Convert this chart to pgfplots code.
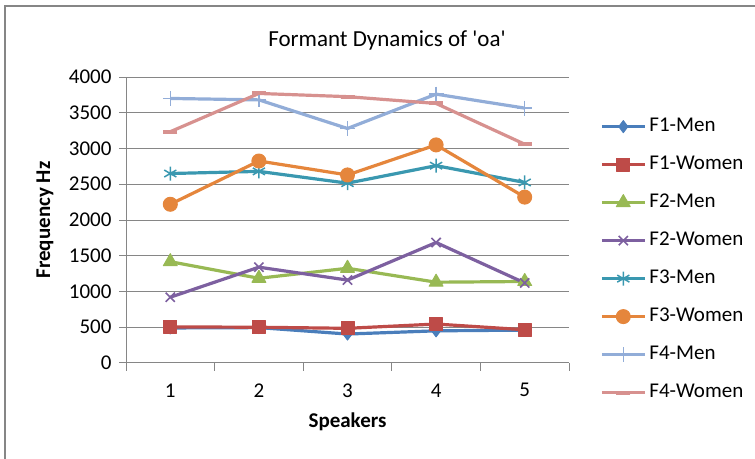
\documentclass[border=0pt]{standalone}
\usepackage{pgfplots}
\pgfplotsset{compat=1.18}
\usepackage{fontspec}
\setmainfont{Carlito}

\definecolor{gridgray}{HTML}{868686}
\definecolor{cBlue}{HTML}{4A7EBB}
\definecolor{cRed}{HTML}{BE4B48}
\definecolor{cGreen}{HTML}{98B954}
\definecolor{cPurple}{HTML}{7D60A0}
\definecolor{cTeal}{HTML}{3A98B0}
\definecolor{cOrange}{HTML}{E5863C}
\definecolor{cLBlue}{HTML}{92ADD8}
\definecolor{cPink}{HTML}{D7918F}

\newcommand{\lbl}{\fontsize{21bp}{25bp}\selectfont}

\begin{document}
\begin{tikzpicture}
\useasboundingbox (0,0) rectangle (755bp,459bp);
% chart area frame
\draw[gridgray, line width=1.2bp] (5bp,0bp) -- (5bp,453bp) -- (755bp,453bp);
% title
\node[font=\fontsize{23bp}{27bp}\selectfont] at (387bp,419bp) {Formant Dynamics of \textquotesingle oa\textquotesingle};

\begin{axis}[
  at={(126bp,96bp)}, anchor=south west,
  scale only axis, width=443bp, height=286bp,
  xmin=0.5, xmax=5.5, ymin=0, ymax=4000,
  axis x line*=bottom, axis y line*=left,
  axis line style={gridgray, line width=1bp, -},
  xtick={1,2,3,4,5},
  minor xtick={0.5,1.5,...,5.5},
  ytick={0,500,...,4000},
  major x tick style={draw=none},
  minor x tick style={gridgray, line width=1bp},
  major y tick style={gridgray, line width=1bp},
  tick align=outside,
  major tick length=7bp, minor tick length=8bp,
  ymajorgrids, grid style={gridgray, line width=1bp},
  tick label style={font=\lbl},
  /pgf/number format/assume math mode=true,
  /pgf/number format/1000 sep={},
  yticklabel style={xshift=-4bp},
  xticklabel style={yshift=-10bp},
  xlabel={\bfseries Speakers},
  ylabel={\bfseries Frequency Hz},
  label style={font=\lbl},
  xlabel style={at={(axis description cs:0.5,-0.206)}, anchor=center},
  ylabel style={at={(axis description cs:-0.183,0.5)}, anchor=center, rotate=0},
  legend cell align=left,
  legend image code/.code={%
    \draw[mark repeat=2,mark phase=2,#1] plot coordinates {(0bp,0bp) (21.5bp,0bp) (43bp,0bp)};},
  legend style={draw=none, fill=none, font=\lbl,
    at={(axis description cs:1.070,0.857)}, anchor=north west,
    inner sep=0pt, row sep=21bp,
    nodes={inner sep=0pt, text height=13bp, text depth=4bp},
    /tikz/every odd column/.append style={column sep=3bp}},
  every axis plot/.append style={line width=3.2bp, line join=round},
]
\addplot[cBlue, mark=diamond*, mark size=6bp, mark options={fill=cBlue, line width=1bp}]
  coordinates {(1,490) (2,495) (3,405) (4,450) (5,460)};
\addlegendentry{F1-Men}
\addplot[cRed, mark=square*, mark size=6.5bp, mark options={fill=cRed, line width=1bp}]
  coordinates {(1,505) (2,500) (3,485) (4,545) (5,465)};
\addlegendentry{F1-Women}
\addplot[cGreen, mark=triangle*, mark size=8bp, mark options={fill=cGreen, line width=1bp}]
  coordinates {(1,1417) (2,1185) (3,1325) (4,1130) (5,1140)};
\addlegendentry{F2-Men}
\addplot[cPurple, mark=x, mark size=6.5bp, mark options={line width=1.6bp}]
  coordinates {(1,920) (2,1340) (3,1160) (4,1685) (5,1120)};
\addlegendentry{F2-Women}
\addplot[cTeal, mark=asterisk, mark size=7bp, mark options={line width=1.5bp}]
  coordinates {(1,2650) (2,2680) (3,2515) (4,2760) (5,2525)};
\addlegendentry{F3-Men}
\addplot[cOrange, mark=*, mark size=7bp, mark options={fill=cOrange, line width=1bp}]
  coordinates {(1,2220) (2,2825) (3,2630) (4,3050) (5,2320)};
\addlegendentry{F3-Women}
\addplot[cLBlue, mark=+, mark size=7.5bp, mark options={line width=1.4bp}]
  coordinates {(1,3700) (2,3680) (3,3280) (4,3760) (5,3565)};
\addlegendentry{F4-Men}
\addplot[cPink, mark=-, mark size=7bp, mark options={line width=4bp}]
  coordinates {(1,3235) (2,3770) (3,3725) (4,3630) (5,3060)};
\addlegendentry{F4-Women}
\end{axis}
\end{tikzpicture}
\end{document}
